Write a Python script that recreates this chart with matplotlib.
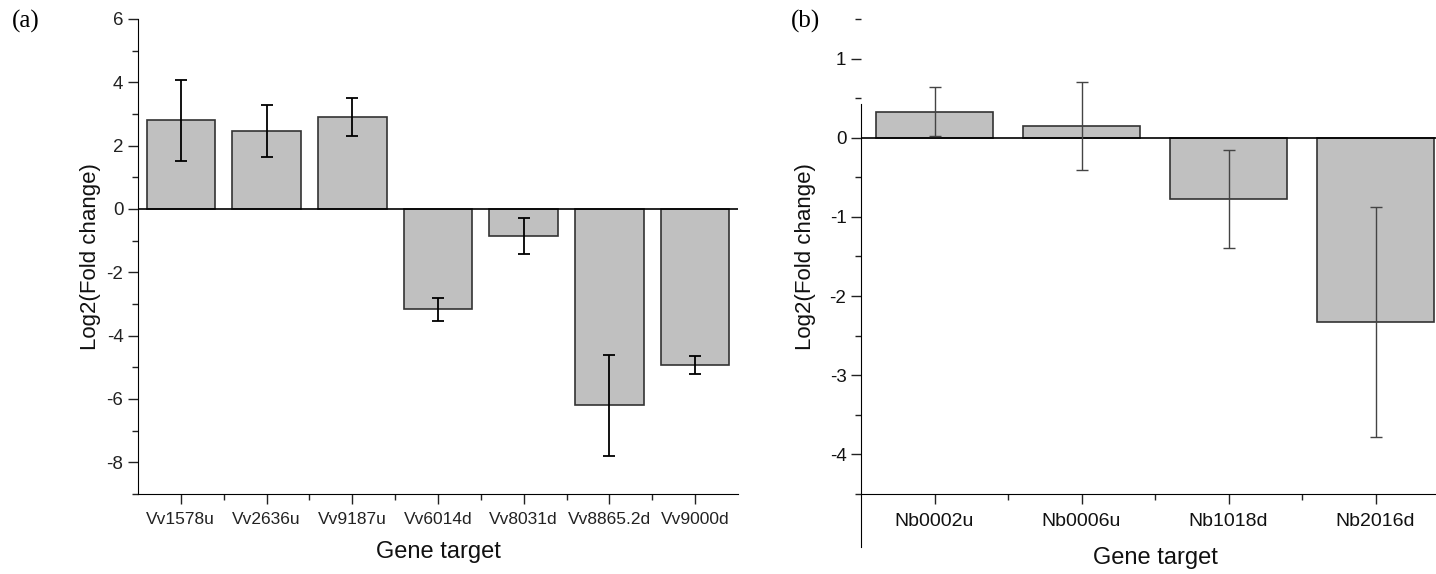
import matplotlib
matplotlib.use("Agg")
import matplotlib.pyplot as plt
from matplotlib.ticker import MultipleLocator
import numpy as np

plt.rcParams['font.family'] = ['Liberation Sans', 'DejaVu Sans']
plt.rcParams['axes.unicode_minus'] = False

# panel (a) data
genes_a = ["Vv1578u", "Vv2636u", "Vv9187u", "Vv6014d", "Vv8031d", "Vv8865.2d", "Vv9000d"]
log2fc_a = [2.8, 2.47, 2.9, -3.17, -0.85, -6.2, -4.92]
err_a = [1.28, 0.82, 0.6, 0.37, 0.56, 1.6, 0.28]

# panel (b) data
genes_b = ["Nb0002u", "Nb0006u", "Nb1018d", "Nb2016d"]
log2fc_b = [0.33, 0.15, -0.77, -2.33]
err_b = [0.31, 0.56, 0.62, 1.45]

BAR_COLOR = "#c0c0c0"
EDGE = "#333333"

fig = plt.figure(figsize=(14.36, 5.74), dpi=100)
ax_a = fig.add_axes([0.0961, 0.1394, 0.4178, 0.8275])
ax_b = fig.add_axes([0.5996, 0.1394, 0.4095, 0.8275])


def style_axes(ax, n):
    ax.spines['top'].set_visible(False)
    ax.spines['right'].set_visible(False)
    ax.set_xlim(-0.5, n - 0.5)
    ax.set_xticks(np.arange(n))
    ax.set_xticks(np.arange(n - 1) + 0.5, minor=True)
    ax.tick_params(which='major', direction='out', length=7, width=1, color='#222')
    ax.tick_params(which='minor', direction='out', length=4, width=1, color='#222')
    ax.axhline(0, color='black', lw=1.2, zorder=3)


# ---- (a)
x = np.arange(len(genes_a))
ax_a.bar(x, log2fc_a, width=0.8, color=BAR_COLOR, edgecolor=EDGE, linewidth=1.2, zorder=2)
ax_a.errorbar(x, log2fc_a, yerr=err_a, fmt='none', ecolor='black', elinewidth=1.3,
              capsize=4, capthick=1.3, zorder=4)
style_axes(ax_a, len(genes_a))
ax_a.set_ylim(-9, 6)
ax_a.yaxis.set_major_locator(MultipleLocator(2))
ax_a.yaxis.set_minor_locator(MultipleLocator(1))
ax_a.set_xticklabels(genes_a, fontsize=12.5, color='#222')
ax_a.tick_params(axis='x', pad=6)
ax_a.tick_params(axis='y', labelsize=13.5, labelcolor='#222')
ax_a.set_ylabel("Log2(Fold change)", fontsize=16, color='#111', labelpad=4)
ax_a.set_xlabel("Gene target", fontsize=17, color='#111', labelpad=10)
fig.text(0.008, 0.962, "(a)", fontsize=18, family='Liberation Serif', va='center')

# ---- (b)
xb = np.arange(len(genes_b))
ax_b.bar(xb, log2fc_b, width=0.8, color=BAR_COLOR, edgecolor=EDGE, linewidth=1.2, zorder=2)
ax_b.errorbar(xb, log2fc_b, yerr=err_b, fmt='none', ecolor='#444', elinewidth=1.0,
              capsize=4, capthick=1.0, zorder=4)
style_axes(ax_b, len(genes_b))
ax_b.set_ylim(-4.5, 1.5)
ax_b.yaxis.set_major_locator(MultipleLocator(1))
ax_b.yaxis.set_minor_locator(MultipleLocator(0.5))
ax_b.set_yticks([1, 0, -1, -2, -3, -4])
ax_b.spines['left'].set_bounds(-5.17, 0.42)
ax_b.set_xticklabels(genes_b, fontsize=14, color='#111')
ax_b.tick_params(axis='x', pad=7)
ax_b.tick_params(axis='y', labelsize=13.5, labelcolor='#111')
ax_b.set_ylabel("Log2(Fold change)", fontsize=16, color='#111', labelpad=10)
ax_b.set_xlabel("Gene target", fontsize=17, color='#111', labelpad=12)
fig.text(0.551, 0.962, "(b)", fontsize=18, family='Liberation Serif', va='center')

fig.savefig("out.png", dpi=100)
